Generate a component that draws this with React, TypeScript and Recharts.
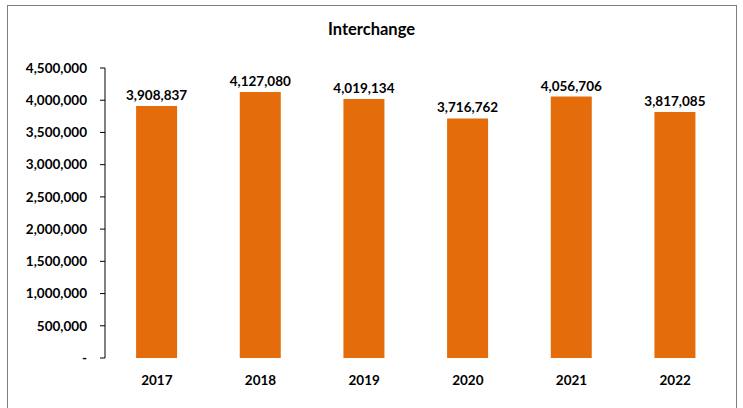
import React from "react";
import { BarChart, Bar, XAxis, YAxis, LabelList } from "recharts";

const years = ["2017", "2018", "2019", "2020", "2021", "2022"];
const interchange = [3908837, 4127080, 4019134, 3716762, 4056706, 3817085];
const yTicks = [0, 500000, 1000000, 1500000, 2000000, 2500000, 3000000, 3500000, 4000000, 4500000];

const data = years.map((year, i) => ({ year, value: interchange[i] }));

const FONT = "Lato, 'Open Sans', sans-serif";
const fmt = (v: number) => (v === 0 ? "-" : v.toLocaleString("en-US"));

const App: React.FC = () => {
  return (
    <div
      style={{
        position: "absolute",
        left: 0,
        top: 0,
        width: 743,
        height: 408,
        overflow: "hidden",
        background: "#fff",
        fontFamily: FONT,
      }}
    >
      <div
        style={{
          position: "absolute",
          left: 7,
          top: 5,
          width: 728,
          height: 420,
          border: "1px solid #7f7f7f",
        }}
      />
      <div
        style={{
          position: "absolute",
          top: 19,
          left: 0,
          width: 743,
          textAlign: "center",
          fontSize: 16.5,
          fontWeight: 700,
          color: "#000",
        }}
      >
        Interchange
      </div>
      <BarChart
        width={743}
        height={408}
        data={data}
        margin={{ top: 68, right: 16, bottom: 20, left: 0 }}
        barCategoryGap="30%"
        style={{ position: "absolute", left: 0, top: 0 }}
      >
        <XAxis
          dataKey="year"
          axisLine={false}
          tickLine={false}
          height={30}
          tickMargin={11}
          tick={{ fill: "#000", fontSize: 13.5, fontWeight: 700, fontFamily: FONT }}
        />
        <YAxis
          width={105}
          domain={[0, 4500000]}
          ticks={yTicks}
          interval={0}
          tickFormatter={fmt}
          axisLine={{ stroke: "#000" }}
          tickLine={{ stroke: "#000" }}
          tickSize={5}
          tickMargin={13}
          tick={{ fill: "#000", fontSize: 13.5, fontWeight: 700, fontFamily: FONT }}
        />
        <Bar dataKey="value" fill="#E46C0A" isAnimationActive={false}>
          <LabelList
            dataKey="value"
            position="top"
            offset={6}
            formatter={(v: any) => Number(v).toLocaleString("en-US")}
            style={{ fill: "#000", fontSize: 13.5, fontWeight: 700, fontFamily: FONT }}
          />
        </Bar>
      </BarChart>
    </div>
  );
};

export default App;
